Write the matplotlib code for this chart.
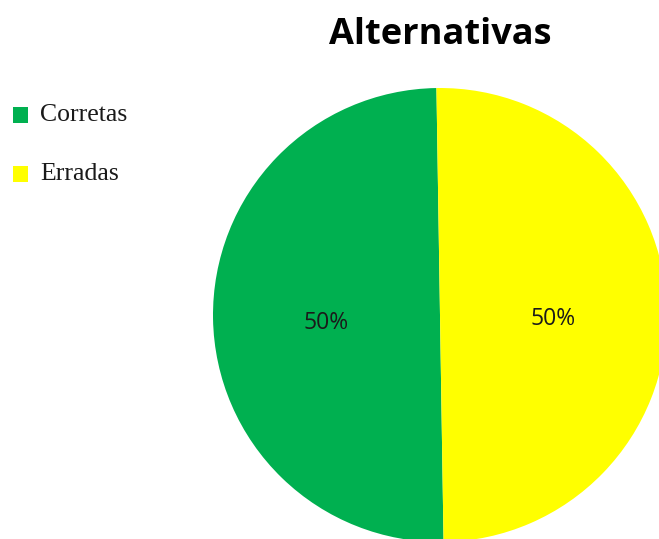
import matplotlib
matplotlib.use("Agg")
import matplotlib.pyplot as plt
from matplotlib.patches import Rectangle

title = "Alternativas"
categories = ["Corretas", "Erradas"]
values = [50, 50]
colors = ["#00B050", "#FFFF00"]

W, H = 659, 539
fig = plt.figure(figsize=(W / 100, H / 100), dpi=100)

cx, cy, r = 440, 315, 227
ax = fig.add_axes([(cx - r) / W, (H - cy - r) / H, 2 * r / W, 2 * r / H])
wedges, texts, autotexts = ax.pie(
    values, colors=colors, startangle=90.9, counterclock=True,
    autopct=lambda p: f"{p:.0f}%", pctdistance=0.5, radius=1,
    wedgeprops=dict(linewidth=0), textprops=dict(fontsize=16.5, family="Open Sans", color="#1a1a1a"))
for w in wedges:
    w.set_clip_on(False)
for t in autotexts:
    x, y = t.get_position()
    t.set_position((x, y - 6 / r))
ax.set_xlim(-1, 1)
ax.set_ylim(-1, 1)
ax.set_aspect("equal")
ax.axis("off")

fig.text(cx / W, 1 - 35 / H, title, ha="center", va="center",
         fontsize=26, fontweight="bold", family="Open Sans")

sq = 15
for i, (cat, col) in enumerate(zip(categories, colors)):
    y = 115 + i * 59
    fig.patches.append(Rectangle((13 / W, 1 - (y + sq / 2) / H), sq / W, sq / H,
                                 transform=fig.transFigure, facecolor=col, edgecolor="none"))
    fig.text(40 / W, 1 - y / H, cat, ha="left", va="center", fontsize=18.5,
             family="Liberation Serif", color="#1a1a1a")

fig.savefig("out.png", dpi=100)
